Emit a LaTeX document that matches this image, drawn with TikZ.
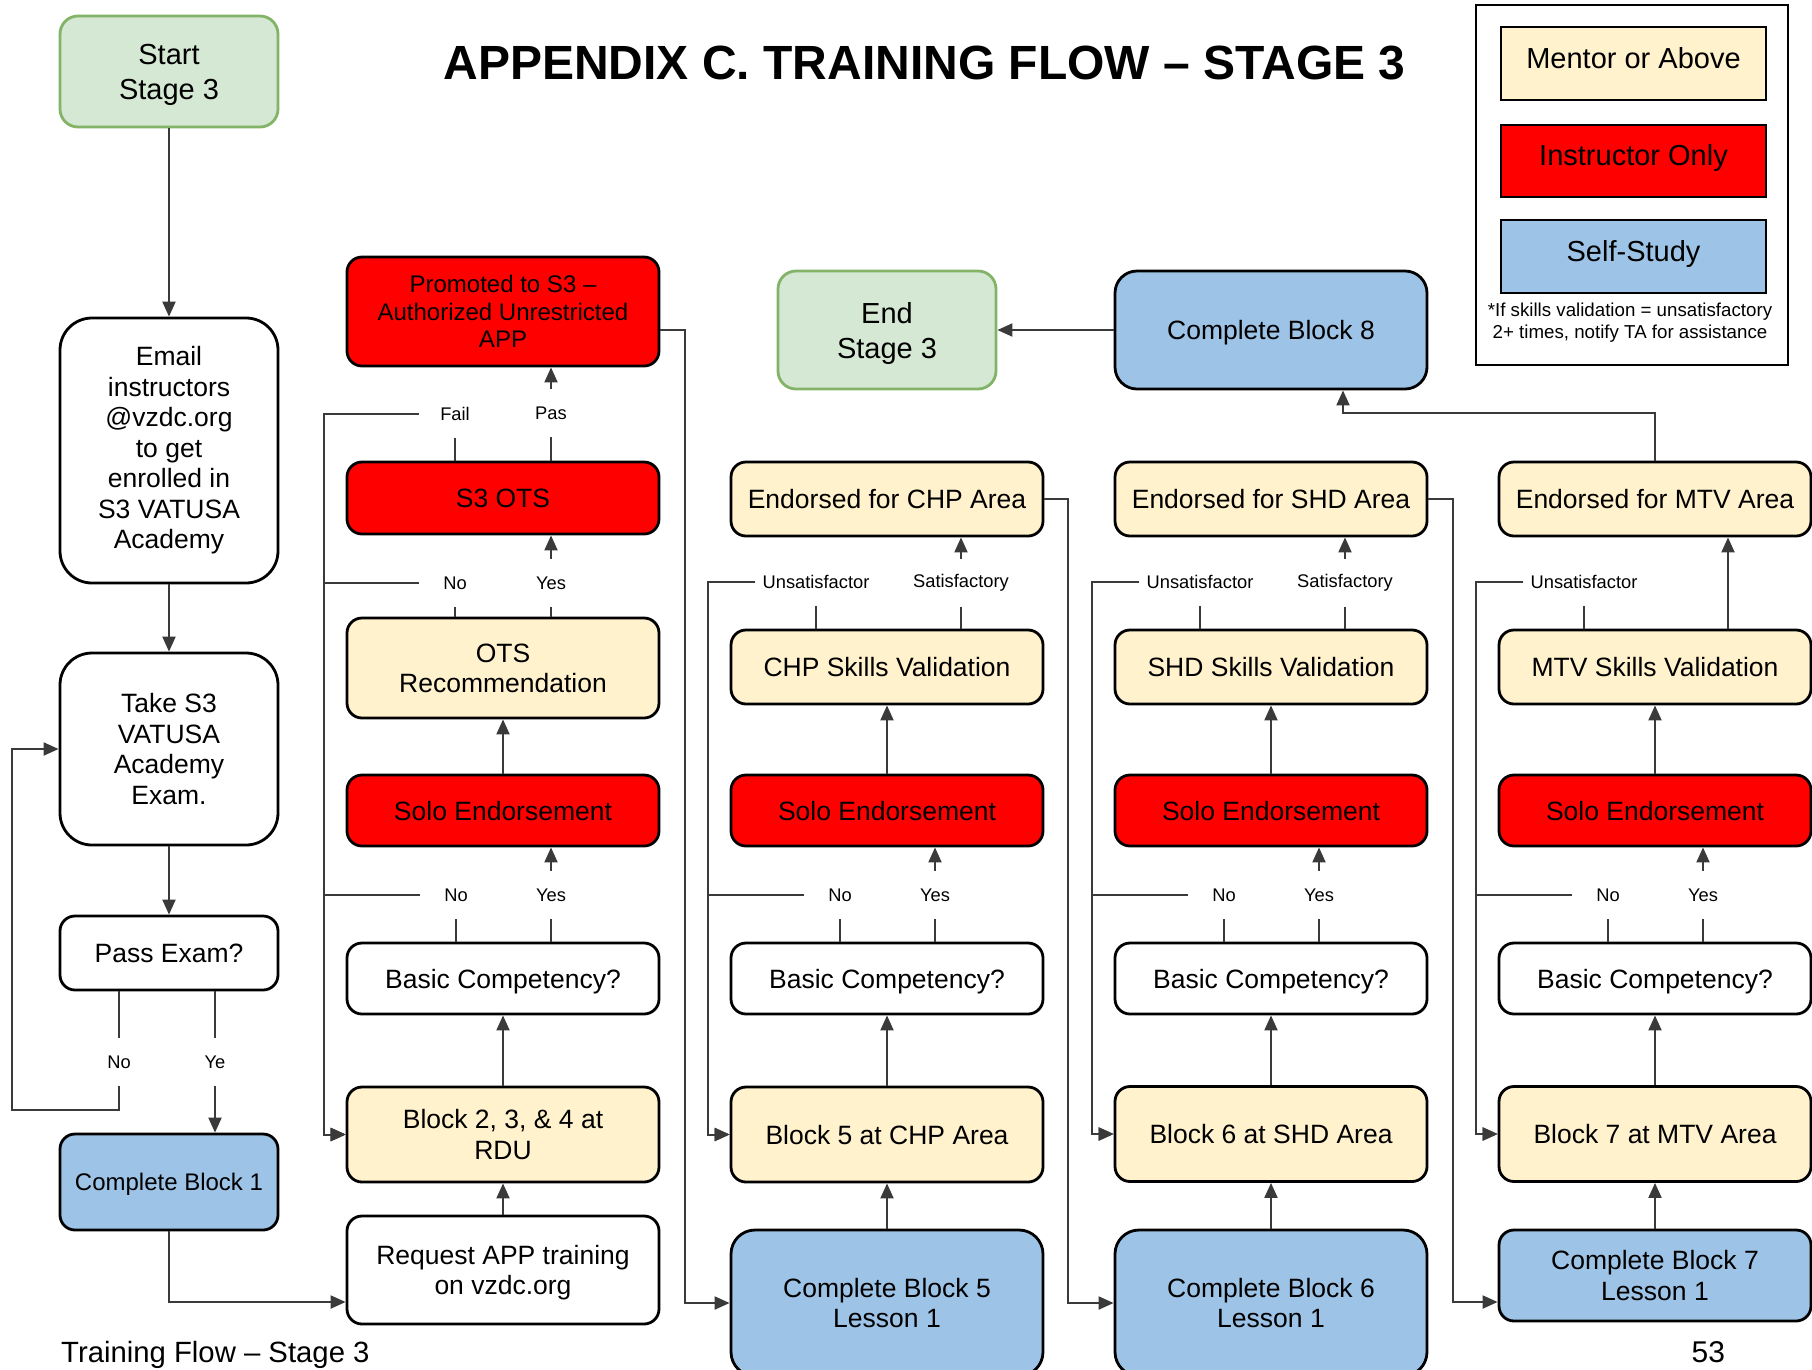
\documentclass[tikz,border=0pt]{standalone}
\usepackage{fontspec}
\setmainfont{Liberation Sans}
\usetikzlibrary{arrows.meta}
\definecolor{mentorC}{HTML}{FFF2CC}
\definecolor{instrC}{HTML}{FF0000}
\definecolor{selfC}{HTML}{9DC3E6}
\definecolor{termC}{HTML}{D5E8D4}
\definecolor{termB}{HTML}{82B366}
\definecolor{lineC}{HTML}{3A3A3A}
\newcommand\sizeto[2]{\fontsize{#1}{#2}\selectfont}

\begin{document}
\begin{tikzpicture}[x=1pt,y=-1pt,
  box/.style={draw=black, line width=2.8pt, rounded corners=15pt, align=center,
              inner sep=0pt, text depth=0pt, font=\sizeto{26.5}{30.5}},
  wh/.style 2 args={minimum width=#1pt, minimum height=#2pt},
  mentor/.style={box, fill=mentorC},
  instr/.style={box, fill=instrC},
  selfst/.style={box, fill=selfC},
  plain/.style={box, fill=white},
  term/.style={box, fill=termC, draw=termB, rounded corners=18pt, text depth=-4.6pt,
               font=\sizeto{29}{35}},
  lbl/.style={inner xsep=7pt, inner ysep=0pt, minimum height=48pt, minimum width=72pt,
              font=\sizeto{18.3}{22}},
  legbox/.style={draw=black, line width=2.6pt, inner sep=0pt, font=\sizeto{29}{33}},
  conn/.style={draw=lineC, line width=2pt},
  arr/.style={conn, -{Triangle[length=15pt,width=13pt]}}
]
\clip (0,0) rectangle (1812,1369);
\fill[white] (0,0) rectangle (1812,1369);

% heading, footer, page number
\node[font=\bfseries\sizeto{48}{52}, inner sep=0pt] (title) at (924.5,63.5)
  {APPENDIX C. TRAINING FLOW – STAGE 3};
\node[anchor=base west, inner sep=0pt, font=\sizeto{29.3}{32}] (foot) at (61,1362)
  {Training Flow – Stage 3};
\node[anchor=base west, inner sep=0pt, font=\sizeto{30}{32}] (pageno) at (1691.5,1362) {53};

% legend
\node[draw=black, line width=2.8pt, wh={312}{360}, inner sep=0pt] (legend) at (1632,185) {};
\node[legbox, fill=mentorC, wh={265}{73}] (lgm) at (1633.5,63.5) {\raisebox{12pt}{Mentor or Above}};
\node[legbox, fill=instrC, wh={265}{72}] (lgi) at (1633.5,161) {\raisebox{12pt}{Instructor Only}};
\node[legbox, fill=selfC, wh={265}{73}] (lgs) at (1633.5,256.5) {\raisebox{12pt}{Self-Study}};
\node[font=\sizeto{18.7}{22}, align=center, inner sep=0pt] (note) at (1630,323)
  {*If skills validation = unsatisfactory\\2+ times, notify TA for assistance};

% column 1: entry
\node[term, wh={218}{111}] (start) at (169,71.5) {Start\\Stage 3};
\node[plain, rounded corners=32pt, text depth=5.6pt, wh={218}{265}] (email) at (169,450.5)
  {Email\\instructors\\@vzdc.org\\to get\\enrolled in\\S3 VATUSA\\Academy};
\node[plain, rounded corners=32pt, wh={218}{192}] (take) at (169,749)
  {Take S3\\VATUSA\\Academy\\Exam.};
\node[plain, wh={218}{74}] (pass) at (169,953) {Pass Exam?};
\node[selfst, wh={218}{96}, font=\sizeto{24}{28}] (cb1) at (169,1182) {Complete Block 1};

% column 2: RDU and the S3 OTS
\node[instr, wh={312}{109}, font=\sizeto{24}{27.5}] (prom) at (503,311.5)
  {Promoted to S3 –\\Authorized Unrestricted\\APP};
\node[instr, wh={312}{72}] (ots) at (503,498) {S3 OTS};
\node[mentor, wh={312}{100}] (otsrec) at (503,668) {OTS\\Recommendation};
\node[instr, wh={312}{71}] (solo2) at (503,810.5) {Solo Endorsement};
\node[plain, wh={312}{71}] (bc2) at (503,978.5) {Basic Competency?};
\node[mentor, wh={312}{95}] (blk2) at (503,1134.5) {Block 2, 3, \& 4 at\\RDU};
\node[plain, wh={312}{108}] (req) at (503,1270) {Request APP training\\on vzdc.org};

% column 3: CHP
\node[term, wh={218}{118}] (end) at (887,330) {End\\Stage 3};
\node[mentor, wh={312}{74}] (end3) at (887,499) {Endorsed for CHP Area};
\node[mentor, wh={312}{74}] (sv3) at (887,667) {CHP Skills Validation};
\node[instr, wh={312}{71}] (solo3) at (887,810.5) {Solo Endorsement};
\node[plain, wh={312}{71}] (bc3) at (887,978.5) {Basic Competency?};
\node[mentor, wh={312}{95}] (blk3) at (887,1134.5) {Block 5 at CHP Area};
\node[selfst, rounded corners=24pt, wh={312}{146}] (cb5) at (887,1303) {Complete Block 5\\Lesson 1};

% column 4: SHD
\node[selfst, rounded corners=22pt, wh={312}{118}] (cb8) at (1271,330) {Complete Block 8};
\node[mentor, wh={312}{74}] (end4) at (1271,499) {Endorsed for SHD Area};
\node[mentor, wh={312}{74}] (sv4) at (1271,667) {SHD Skills Validation};
\node[instr, wh={312}{71}] (solo4) at (1271,810.5) {Solo Endorsement};
\node[plain, wh={312}{71}] (bc4) at (1271,978.5) {Basic Competency?};
\node[mentor, wh={312}{95}] (blk4) at (1271,1134) {Block 6 at SHD Area};
\node[selfst, rounded corners=24pt, wh={312}{146}] (cb6) at (1271,1303) {Complete Block 6\\Lesson 1};

% column 5: MTV
\node[mentor, wh={312}{74}] (end5) at (1655,499) {Endorsed for MTV Area};
\node[mentor, wh={312}{74}] (sv5) at (1655,667) {MTV Skills Validation};
\node[instr, wh={312}{71}] (solo5) at (1655,810.5) {Solo Endorsement};
\node[plain, wh={312}{71}] (bc5) at (1655,978.5) {Basic Competency?};
\node[mentor, wh={312}{95}] (blk5) at (1655,1134) {Block 7 at MTV Area};
\node[selfst, wh={312}{91}] (cb7) at (1655,1275.5) {Complete Block 7\\Lesson 1};

% decision labels
\node[lbl] (no1)   at (119,1062) {No};
\node[lbl] (ye1)   at (215,1062) {Ye};
\node[lbl] (fail)  at (455,414) {Fail};
\node[lbl] (pas)   at (551,413) {Pas};
\node[lbl] (no2a)  at (455,583) {No};
\node[lbl] (yes2a) at (551,583) {Yes};
\node[lbl] (no2b)  at (456,895) {No};
\node[lbl] (yes2b) at (551,895) {Yes};
\node[lbl] (uns3)  at (816,582) {Unsatisfactor};
\node[lbl] (sat3)  at (961,583) {Satisfactory};
\node[lbl] (no3)   at (840,895) {No};
\node[lbl] (yes3)  at (935,895) {Yes};
\node[lbl] (uns4)  at (1200,582) {Unsatisfactor};
\node[lbl] (sat4)  at (1345,583) {Satisfactory};
\node[lbl] (no4)   at (1224,895) {No};
\node[lbl] (yes4)  at (1319,895) {Yes};
\node[lbl] (uns5)  at (1584,582) {Unsatisfactor};
\node[lbl] (no5)   at (1608,895) {No};
\node[lbl] (yes5)  at (1703,895) {Yes};

% routing columns for the retry loops
\coordinate (ret)   at (12,1110);
\coordinate (loop2) at (324,0);
\coordinate (loop3) at (708,0);
\coordinate (loop4) at (1092,0);
\coordinate (loop5) at (1476,0);

% column 1 connectors
\draw[arr] (start) -- (email);
\draw[arr] (email) -- (take);
\draw[arr] (take) -- (pass);
\draw[conn] (pass.south -| no1) -- (no1);
\draw[arr] (no1) -- (no1 |- ret) -- (ret) -- (ret |- take) -- (take.west);
\draw[conn] (pass.south -| ye1) -- (ye1);
\draw[arr] (ye1) -- (cb1.north -| ye1);
\draw[arr] (cb1) |- ([yshift=-32pt]req.west);

% column 2 connectors
\draw[arr] (req) -- (blk2);
\draw[arr] (blk2) -- (bc2);
\draw[conn] (bc2.north -| no2b) -- (no2b);
\draw[arr] (no2b) -- (no2b -| loop2) -- (blk2 -| loop2) -- (blk2);
\draw[conn] (bc2.north -| yes2b) -- (yes2b);
\draw[arr] (yes2b) -- (solo2.south -| yes2b);
\draw[arr] (solo2) -- (otsrec);
\draw[conn] (otsrec.north -| no2a) -- (no2a);
\draw[arr] (no2a) -- (no2a -| loop2) -- (blk2 -| loop2) -- (blk2);
\draw[conn] (otsrec.north -| yes2a) -- (yes2a);
\draw[arr] (yes2a) -- (ots.south -| yes2a);
\draw[conn] (ots.north -| fail) -- (fail);
\draw[arr] (fail) -- (fail -| loop2) -- (blk2 -| loop2) -- (blk2);
\draw[conn] (ots.north -| pas) -- (pas);
\draw[arr] (pas) -- (prom.south -| pas);
\draw[arr] ([yshift=-18.5pt]prom.east) -- ++(25,0) |- (cb5);

% column 3 connectors
\draw[arr] (cb5) -- (blk3);
\draw[arr] (blk3) -- (bc3);
\draw[conn] (bc3.north -| no3) -- (no3);
\draw[arr] (no3) -- (no3 -| loop3) -- (blk3 -| loop3) -- (blk3);
\draw[conn] (bc3.north -| yes3) -- (yes3);
\draw[arr] (yes3) -- (solo3.south -| yes3);
\draw[arr] (solo3) -- (sv3);
\draw[conn] (sv3.north -| uns3) -- (uns3);
\draw[arr] (uns3) -- (uns3 -| loop3) -- (blk3 -| loop3) -- (blk3);
\draw[conn] (sv3.north -| sat3) -- (sat3);
\draw[arr] (sat3) -- (end3.south -| sat3);
\draw[arr] (end3.east) -- ++(24,0) |- (cb6);

% column 4 connectors
\draw[arr] (cb6) -- (blk4);
\draw[arr] (blk4) -- (bc4);
\draw[conn] (bc4.north -| no4) -- (no4);
\draw[arr] (no4) -- (no4 -| loop4) -- (blk4 -| loop4) -- (blk4);
\draw[conn] (bc4.north -| yes4) -- (yes4);
\draw[arr] (yes4) -- (solo4.south -| yes4);
\draw[arr] (solo4) -- (sv4);
\draw[conn] (sv4.north -| uns4) -- (uns4);
\draw[arr] (uns4) -- (uns4 -| loop4) -- (blk4 -| loop4) -- (blk4);
\draw[conn] (sv4.north -| sat4) -- (sat4);
\draw[arr] (sat4) -- (end4.south -| sat4);
\draw[arr] (end4.east) -- ++(25,0) |- ([yshift=-26.5pt]cb7.west);

% column 5 connectors
\draw[arr] (cb7) -- (blk5);
\draw[arr] (blk5) -- (bc5);
\draw[conn] (bc5.north -| no5) -- (no5);
\draw[arr] (no5) -- (no5 -| loop5) -- (blk5 -| loop5) -- (blk5);
\draw[conn] (bc5.north -| yes5) -- (yes5);
\draw[arr] (yes5) -- (solo5.south -| yes5);
\draw[arr] (solo5) -- (sv5);
\draw[conn] (sv5.north -| uns5) -- (uns5);
\draw[arr] (uns5) -- (uns5 -| loop5) -- (blk5 -| loop5) -- (blk5);
\draw[arr] ([xshift=73pt]sv5.north) -- ([xshift=73pt]end5.south);
\draw[arr] (end5.north) -- ++(0,-48) -| ([xshift=72pt]cb8.south);

% finish
\draw[arr] (cb8) -- (end);
\end{tikzpicture}
\end{document}
